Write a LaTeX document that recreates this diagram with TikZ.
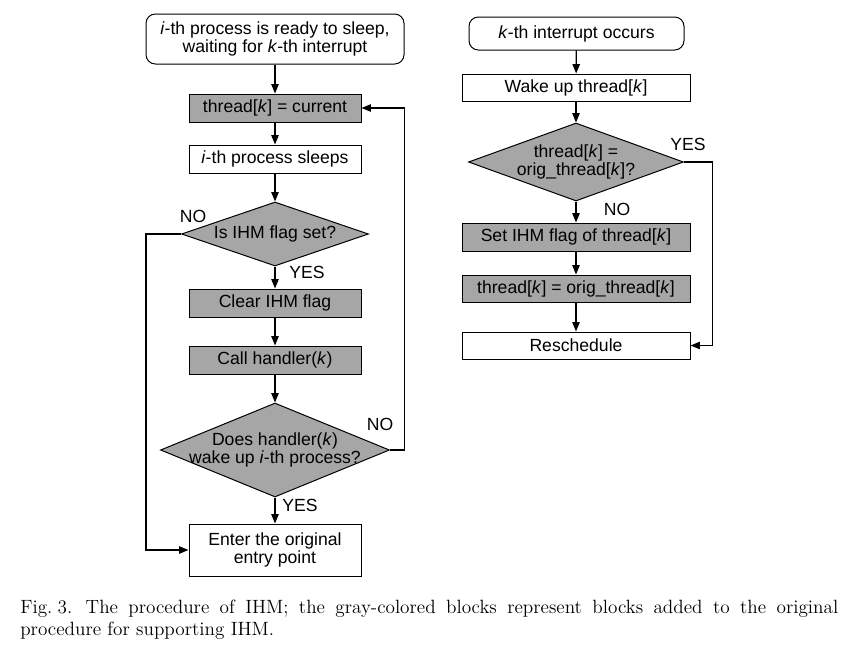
\documentclass[tikz,border=0pt]{standalone}
\usepackage{fontspec}
\newfontfamily\arialf{Liberation Sans}
\usetikzlibrary{shapes.geometric,arrows.meta}
\definecolor{boxgray}{RGB}{166,166,166}
\begin{document}
\begin{tikzpicture}[x=0.75pt,y=-0.75pt,
  every node/.style={font=\arialf\fontsize{13.2}{14}\selectfont, inner sep=0pt},
  blk/.style={draw=black, line width=0.75pt, fill=white, minimum width=129pt, minimum height=21pt, align=center},
  gblk/.style={blk, fill=boxgray},
  wblk/.style={minimum width=171pt},
  rblk/.style={blk, rounded corners=7pt},
  dia/.style={draw=black, line width=0.75pt, fill=boxgray, shape=diamond},
  lbl/.style={},
  arr/.style={draw=black, line width=0.9pt, -{Triangle[length=7pt,width=5.5pt]}},
  capf/.style={font=\fontsize{14.4}{17}\selectfont}
]
\useasboundingbox (0,0) rectangle (852,646);
\fill[white] (0,0) rectangle (852,646);

% left column
\node[rblk, minimum width=193.5pt, minimum height=37.5pt] (start) at (275,39) {\textit{i}-th process is ready to sleep,\\waiting for \textit{k}-th interrupt};
\node[gblk] (thread) at (275,108) {thread[\textit{k}] = current};
\node[blk] (sleeps) at (275,159) {\textit{i}-th process sleeps};
\node[dia, minimum width=140.25pt, minimum height=48pt] (d1) at (275,234) {};
\node[align=center] (d1t) at (275,234) {Is IHM flag set?};
\node[gblk] (clear) at (275,303) {Clear IHM flag};
\node[gblk] (call) at (275,360) {Call handler(\textit{k})};
\node[dia, minimum width=171.75pt, minimum height=70.5pt] (d2) at (275,450) {};
\node[align=center] (d2t) at (275,450) {Does handler(\textit{k})\\wake up \textit{i}-th process?};
\node[blk, minimum height=39pt] (enter) at (275,550) {Enter the original\\entry point};

\node[lbl] (no1) at (193,216) {NO};
\node[lbl] (yes1) at (307,272) {YES};
\node[lbl] (no2) at (380,424) {NO};
\node[lbl] (yes2) at (300,505) {YES};

\draw[arr] (start) -- (thread);
\draw[arr] (thread) -- (sleeps);
\draw[arr] (sleeps) -- (d1.north);
\draw[arr] (d1.south) -- (clear);
\draw[arr] (clear) -- (call);
\draw[arr] (call) -- (d2.north);
\draw[arr] (d2.south) -- (enter);
\draw[arr] (d1.west) -- ++(-35,0) |- (enter.west);
\draw[arr] (d2.east) -- ++(14.5,0) |- (thread.east);

% right column
\node[rblk, minimum width=161.25pt, minimum height=24.75pt] (int) at (576.5,33.5) {\textit{k}-th interrupt occurs};
\node[blk, wblk, minimum height=20.25pt] (wake) at (576,87.5) {Wake up thread[\textit{k}]};
\node[dia, minimum width=161.25pt, minimum height=58.5pt] (d3) at (576,162) {};
\node[align=center] (d3t) at (576,162) {thread[\textit{k}] =\\orig\_thread[\textit{k}]?};
\node[gblk, wblk] (set) at (576,237) {Set IHM flag of thread[\textit{k}]};
\node[gblk, wblk, minimum height=20.25pt] (orig) at (576,288.5) {thread[\textit{k}] = orig\_thread[\textit{k}]};
\node[blk, wblk, minimum height=20.25pt] (resch) at (576,345.5) {Reschedule};

\node[lbl] (yes3) at (688,144) {YES};
\node[lbl] (no3) at (617,209) {NO};

\draw[arr] (int) -- (wake);
\draw[arr] (wake) -- (d3.north);
\draw[arr] (d3.south) -- (set);
\draw[arr] (set) -- (orig);
\draw[arr] (orig) -- (resch);
\draw[arr] (d3.east) -- ++(28.5,0) |- (resch.east);

% caption
\node[anchor=base west, capf] (cap1) at (20,613) {\makebox[613.5pt][s]{Fig.\kern4pt3.\kern10pt The procedure of IHM; the gray-colored blocks represent blocks added to the original}};
\node[anchor=base west, capf] (cap2) at (20,635) {procedure for supporting IHM.};
\end{tikzpicture}
\end{document}
